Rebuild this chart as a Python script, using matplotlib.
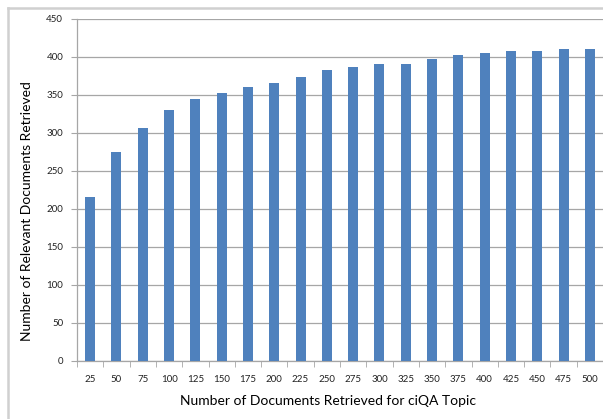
import matplotlib.pyplot as plt
from matplotlib.lines import Line2D

docs_retrieved = [25, 50, 75, 100, 125, 150, 175, 200, 225, 250,
                  275, 300, 325, 350, 375, 400, 425, 450, 475, 500]
relevant = [215, 275, 307, 330, 344, 353, 361, 366, 374, 383,
            387, 391, 391, 397, 402, 405, 408, 408, 410, 411]
y_ticks = [0, 50, 100, 150, 200, 250, 300, 350, 400, 450]

plt.rcParams['font.family'] = ['Lato', 'DejaVu Sans']

W, H = 603, 419
fig = plt.figure(figsize=(W / 100, H / 100), dpi=100)
ax = fig.add_axes([77 / W, 1 - 360.7 / H, (603 - 77) / W, (360.7 - 19) / H])

x = list(range(len(docs_retrieved)))
ax.bar(x, relevant, width=0.38, color='#4f81bd', zorder=3)

ax.set_xlim(-0.5, len(x) - 0.5)
ax.set_ylim(0, 450)
ax.set_yticks(y_ticks)
ax.set_xticks(x)
ax.set_xticklabels([str(v) for v in docs_retrieved])
ax.set_xticks([i - 0.5 for i in range(len(x) + 1)], minor=True)

ax.grid(axis='y', color='#a6a6a6', linewidth=0.9, zorder=0)
for s in ['top', 'right']:
    ax.spines[s].set_visible(False)
for s in ['left', 'bottom']:
    ax.spines[s].set_color('#a6a6a6')
    ax.spines[s].set_linewidth(0.9)

ax.tick_params(axis='x', which='major', length=0, labelsize=7, pad=10, colors='#222222')
ax.tick_params(axis='x', which='minor', length=4, color='#a6a6a6', direction='out')
ax.tick_params(axis='y', length=4, color='#a6a6a6', labelsize=7, colors='#222222', pad=6)
ax.tick_params(axis='y', color='#a6a6a6')

fig.text(328 / W, 1 - 401 / H, 'Number of Documents Retrieved for ciQA Topic',
         ha='center', va='center', fontsize=10)
fig.text(27 / W, 1 - 211 / H, 'Number of Relevant Documents Retrieved',
         ha='center', va='center', rotation=90, fontsize=10)

# light grey outer frame (only top and left edges visible)
fig.add_artist(Line2D([8 / W, 1], [1 - 8 / H, 1 - 8 / H], transform=fig.transFigure,
                      color='#d0d0d0', linewidth=1.8))
fig.add_artist(Line2D([8 / W, 8 / W], [0, 1 - 8 / H], transform=fig.transFigure,
                      color='#d0d0d0', linewidth=1.8))

fig.savefig('out.png', dpi=100)
